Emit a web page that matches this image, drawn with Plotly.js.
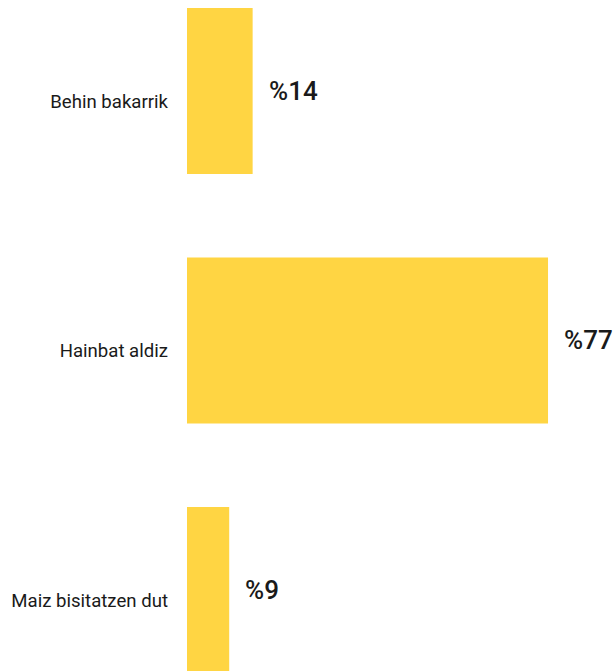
<!DOCTYPE html>
<html>
<head>
<meta charset="utf-8">
<script src="https://cdn.plot.ly/plotly-3.0.1.min.js"></script>
<style>html,body{margin:0;padding:0;background:#fff;}#chart{width:616px;height:671px;}</style>
</head>
<body>
<div id="chart"></div>
<script>
const categories = ["Behin bakarrik", "Hainbat aldiz", "Maiz bisitatzen dut"];
const values = [14, 77, 9];
const valueLabels = ["%14", "%77", "%9"];

const trace = {
  type: "bar",
  orientation: "h",
  x: values,
  y: categories,
  marker: {color: "#FFD543"},
  hoverinfo: "none"
};

const annotations = values.map((v, i) => ({
  x: v, y: categories[i], xref: "x", yref: "y",
  text: valueLabels[i], showarrow: false,
  xanchor: "left", yanchor: "middle", xshift: 14,
  font: {family: "Roboto", size: 26, color: "#1a1a1a", weight: 500}
}));

const layout = {
  width: 616, height: 671,
  margin: {l: 187, r: 0, t: 0, b: 0},
  paper_bgcolor: "#fff", plot_bgcolor: "#fff",
  bargap: 0.335,
  showlegend: false,
  xaxis: {range: [0, 91.5], showgrid: false, zeroline: false, showticklabels: false, showline: false, ticks: ""},
  yaxis: {
    type: "category",
    range: [2.3247, -0.3647],
    showgrid: false, zeroline: false, showline: false, ticks: "",
    ticklabelstandoff: 18,
    ticklabelshift: -10,
    tickfont: {family: "Roboto", size: 18.6, color: "#1a1a1a"}
  },
  annotations: annotations
};

Plotly.newPlot("chart", [trace], layout, {displayModeBar: false, staticPlot: true});
</script>
</body>
</html>
